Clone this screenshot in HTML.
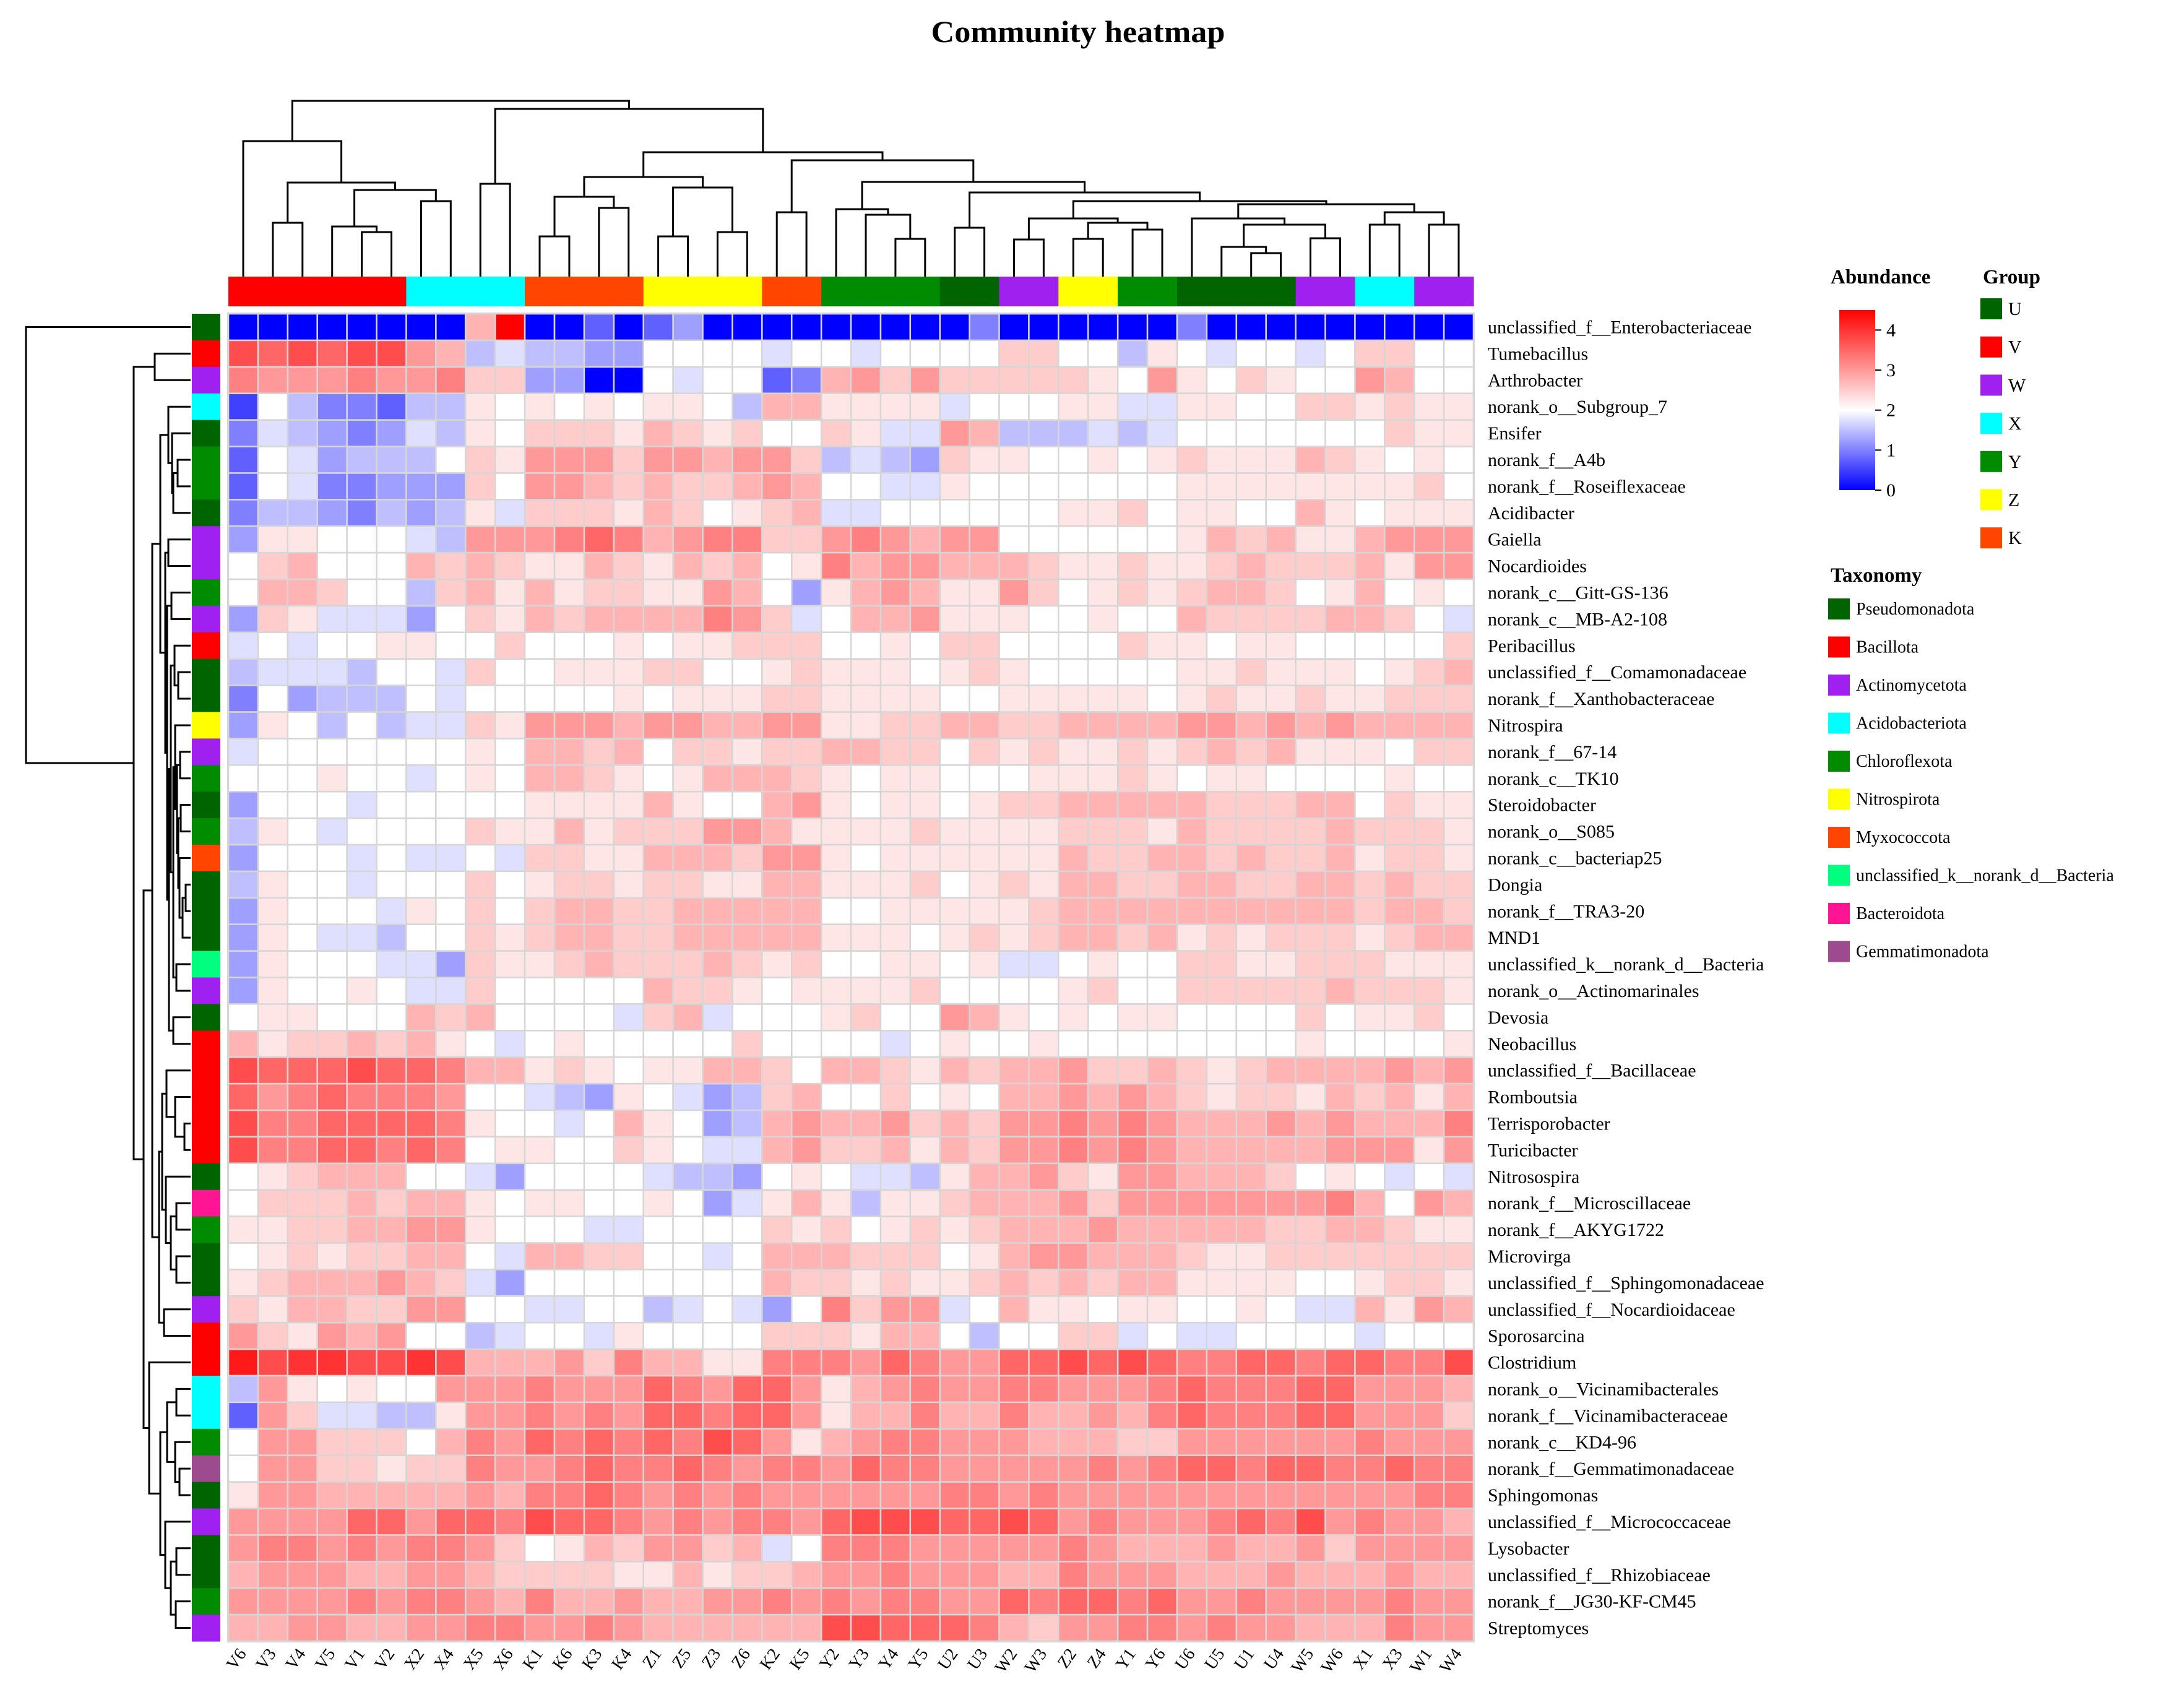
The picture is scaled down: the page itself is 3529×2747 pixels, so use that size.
<!DOCTYPE html>
<html><head><meta charset="utf-8"><title>Community heatmap</title>
<style>
html,body{margin:0;padding:0;background:#fff;}
svg{display:block;}
text{font-family:"Liberation Serif","DejaVu Serif",serif;fill:#000;}
</style></head>
<body>
<svg id="chart" xmlns="http://www.w3.org/2000/svg" width="3529" height="2747" viewBox="0 0 3529 2747">
<rect x="0" y="0" width="3529" height="2747" fill="#fff"/>
<text x="1742" y="68" text-anchor="middle" font-size="50" font-weight="bold" textLength="475" lengthAdjust="spacingAndGlyphs">Community heatmap</text>
<g id="layer-heat"></g>
<g id="layer-coltree"></g>
<g id="layer-rowtree"></g>
<g id="layer-groupbar"></g>
<g id="layer-taxbar"></g>
<g id="layer-rowlabels"></g>
<g id="layer-collabels"></g>
<g id="layer-legend"></g>
</svg>
<script>
const samples = ["V6","V3","V4","V5","V1","V2","X2","X4","X5","X6","K1","K6","K3","K4","Z1","Z5","Z3","Z6","K2","K5","Y2","Y3","Y4","Y5","U2","U3","W2","W3","Z2","Z4","Y1","Y6","U6","U5","U1","U4","W5","W6","X1","X3","W1","W4"];
const sampleGroups = ["V","V","V","V","V","V","X","X","X","X","K","K","K","K","Z","Z","Z","Z","K","K","Y","Y","Y","Y","U","U","W","W","Z","Z","Y","Y","U","U","U","U","W","W","X","X","W","W"];
const taxa = ["unclassified_f__Enterobacteriaceae","Tumebacillus","Arthrobacter","norank_o__Subgroup_7","Ensifer","norank_f__A4b","norank_f__Roseiflexaceae","Acidibacter","Gaiella","Nocardioides","norank_c__Gitt-GS-136","norank_c__MB-A2-108","Peribacillus","unclassified_f__Comamonadaceae","norank_f__Xanthobacteraceae","Nitrospira","norank_f__67-14","norank_c__TK10","Steroidobacter","norank_o__S085","norank_c__bacteriap25","Dongia","norank_f__TRA3-20","MND1","unclassified_k__norank_d__Bacteria","norank_o__Actinomarinales","Devosia","Neobacillus","unclassified_f__Bacillaceae","Romboutsia","Terrisporobacter","Turicibacter","Nitrosospira","norank_f__Microscillaceae","norank_f__AKYG1722","Microvirga","unclassified_f__Sphingomonadaceae","unclassified_f__Nocardioidaceae","Sporosarcina","Clostridium","norank_o__Vicinamibacterales","norank_f__Vicinamibacteraceae","norank_c__KD4-96","norank_f__Gemmatimonadaceae","Sphingomonas","unclassified_f__Micrococcaceae","Lysobacter","unclassified_f__Rhizobiaceae","norank_f__JG30-KF-CM45","Streptomyces"];
const taxaPhylum = ["Pseudomonadota","Bacillota","Actinomycetota","Acidobacteriota","Pseudomonadota","Chloroflexota","Chloroflexota","Pseudomonadota","Actinomycetota","Actinomycetota","Chloroflexota","Actinomycetota","Bacillota","Pseudomonadota","Pseudomonadota","Nitrospirota","Actinomycetota","Chloroflexota","Pseudomonadota","Chloroflexota","Myxococcota","Pseudomonadota","Pseudomonadota","Pseudomonadota","unclassified_k__norank_d__Bacteria","Actinomycetota","Pseudomonadota","Bacillota","Bacillota","Bacillota","Bacillota","Bacillota","Pseudomonadota","Bacteroidota","Chloroflexota","Pseudomonadota","Pseudomonadota","Actinomycetota","Bacillota","Bacillota","Acidobacteriota","Acidobacteriota","Chloroflexota","Gemmatimonadota","Pseudomonadota","Actinomycetota","Pseudomonadota","Pseudomonadota","Chloroflexota","Actinomycetota"];
const groupNames = ["U","V","W","X","Y","Z","K"];
const groupColors = ["#006400","#ff0000","#a020f0","#00ffff","#008b00","#ffff00","#ff4500"];
const phylumNames = ["Pseudomonadota","Bacillota","Actinomycetota","Acidobacteriota","Chloroflexota","Nitrospirota","Myxococcota","unclassified_k__norank_d__Bacteria","Bacteroidota","Gemmatimonadota"];
const phylumColors = ["#006400","#ff0000","#a020f0","#00ffff","#008b00","#ffff00","#ff4500","#00ff7f","#ff1493","#9e4a8e"];
const legendTicks = [0,1,2,3,4];
const abundance = [
[0,0,0,0,0,0,0,0,2.75,4.5,0,0,.75,0,.75,1.25,0,0,0,0,0,0,0,0,0,1,0,0,0,0,0,0,1,0,0,0,0,0,0,0,0,0],
[3.75,3.5,3.75,3.5,3.75,3.75,3,2.75,1.5,1.75,1.5,1.5,1.25,1.25,2,2,2,2,1.75,2,2,1.75,2,2,2,2,2.5,2.5,2,2,1.5,2.25,2,1.75,2,2,1.75,2,2.5,2.5,2,2],
[3.25,3,3,3,3.25,3,3,3.25,2.5,2.5,1.25,1.25,0,0,2,1.75,2,2,.75,1,2.75,3,2.5,3,2.5,2.5,2.5,2.5,2.5,2.25,2,3,2.25,2,2.5,2.25,2,2,3,2.75,2,2],
[.5,2,1.5,1,1,.75,1.5,1.5,2.25,2,2.25,2,2.25,2,2.25,2.25,2,1.5,2.75,2.75,2.25,2.25,2.25,2.25,1.75,2,2,2,2.25,2.25,1.75,1.75,2.25,2.25,2,2,2.5,2.5,2.25,2.5,2.25,2.25],
[1,1.75,1.5,1.25,1,1.25,1.75,1.5,2.25,2,2.5,2.5,2.5,2.25,2.75,2.5,2.25,2.5,2,2,2.5,2.25,1.75,1.75,3,2.75,1.5,1.5,1.5,1.75,1.5,1.75,2,2,2,2,2,2,2,2.5,2.25,2.25],
[.75,2,1.75,1.25,1.5,1.5,1.5,2,2.5,2.25,3,3,3,2.5,3,3,2.75,3,3,2.5,1.5,1.75,1.5,1.25,2.5,2.25,2.25,2,2,2.25,2,2.25,2.5,2.25,2.25,2.25,2.75,2.5,2.25,2,2.25,2],
[.75,2,1.75,1,1,1.25,1.25,1.25,2.5,2,3,3,2.75,2.5,2.75,2.5,2.5,2.75,3,2.75,2,2,1.75,1.75,2.25,2,2,2,2,2,2,2,2.25,2.25,2.25,2.25,2.25,2.25,2.25,2.25,2.5,2],
[1,1.5,1.5,1.25,1,1.5,1.25,1.5,2.25,1.75,2.5,2.5,2.5,2.25,2.75,2.5,2,2.25,2.5,2.75,1.75,1.75,2,2,2,2,2,2,2.25,2.25,2.5,2,2.25,2.25,2,2,2.75,2.25,2,2.25,2.25,2.25],
[1.25,2.25,2.25,2,2,2,1.75,1.5,3,3,3,3.25,3.5,3.25,2.75,3,3.25,3.25,2.5,2.5,3,3.25,3,2.75,3,3,2,2,2,2,2,2,2.25,2.75,2.5,2.75,2.25,2.25,2.75,3,3,3],
[2,2.5,2.75,2,2,2,2.75,2.5,2.75,2.5,2.25,2.25,2.75,2.5,2.25,2.75,2.5,2.75,2,2.25,3.25,2.75,3,3,2.75,2.75,2.75,2.5,2.25,2.25,2.5,2.25,2.25,2.5,2.75,2.5,2.5,2.5,2.75,2.25,3,3],
[2,2.75,2.75,2.5,2,2,1.5,2.5,2.75,2.25,2.75,2.25,2.5,2.5,2.25,2.25,3,2.75,2,1.25,2.25,2.75,3,2.75,2.25,2.25,3,2.5,2,2.25,2.5,2.25,2.5,2.75,2.75,2.5,2,2.25,2.75,2,2.25,2],
[1.25,2.5,2.25,1.75,1.75,1.75,1.25,2,2.5,2.25,2.75,2.5,2.75,2.75,2.75,2.75,3.25,3,2.5,1.75,2,2.75,2.75,3,2.25,2.25,2.25,2,2,2.25,2,2,2.75,2.5,2.5,2.5,2.5,2.75,2.75,2.5,2,1.75],
[1.75,2,1.75,2,2,2.25,2.25,2,2,2.5,2,2,2,2.25,2,2.25,2.25,2.5,2.5,2.5,2,2,2.25,2,2.5,2.5,2,2,2,2,2.5,2.25,2.25,2,2.25,2.25,2,2,2,2,2,2.5],
[1.5,1.75,1.75,1.75,1.5,2,2,1.75,2.5,2,2,2.25,2.25,2.25,2.5,2.5,2,2,2.25,2.5,2.25,2.25,2.25,2,2.25,2.5,2.25,2,2,2,2,2,2.25,2.25,2.5,2.25,2.25,2.25,2,2.25,2.5,2.75],
[1,2,1.25,1.5,1.5,1.5,2,1.75,2,2,2,2,2,2.25,2,2.25,2.25,2.25,2.5,2.5,2.25,2.25,2.25,2.25,2,2,2.25,2.25,2.25,2.25,2.25,2,2.25,2.5,2.25,2.25,2.5,2.25,2.25,2.5,2.5,2.5],
[1.25,2.25,2,1.5,2,1.5,1.75,1.75,2.5,2.25,3,3,3,2.75,3,3,2.75,2.75,3,3,2.25,2.25,2.5,2.5,2.75,2.75,2.5,2.5,2.75,2.75,2.75,2.75,3,3,2.75,3,2.75,3,2.75,2.75,2.75,2.75],
[1.75,2,2,2,2,2,2,2,2.25,2,2.75,2.75,2.5,2.75,2,2.5,2.5,2.25,2.5,2.5,2.75,2.75,2.5,2.5,2,2.5,2.25,2.5,2.25,2.25,2.5,2.25,2.5,2.75,2.5,2.75,2.25,2.25,2.25,2,2.5,2.5],
[2,2,2,2.25,2,2,1.75,2,2.25,2,2.75,2.75,2.5,2.25,2,2.25,2.75,2.75,2.75,2.5,2.25,2,2.25,2.25,2,2,2,2.25,2.25,2.25,2.5,2.25,2,2.25,2.25,2,2,2,2,2.25,2,2],
[1.25,2,2,2,1.75,2,2,2,2,2,2.25,2.25,2.25,2.25,2.75,2.25,2,2,2.75,3,2.25,2,2.25,2.25,2,2.25,2.5,2.5,2.75,2.75,2.75,2.75,2.75,2.5,2.5,2.5,2.75,2.75,2,2.5,2.25,2.25],
[1.5,2.25,2,1.75,2,2,2,2,2.5,2.25,2.25,2.75,2.25,2.5,2.5,2.5,3,3,2.75,2.25,2.25,2.25,2.25,2.5,2.25,2.25,2.25,2.25,2.5,2.5,2.5,2.25,2.75,2.5,2.5,2.5,2.5,2.75,2.5,2.5,2.5,2.25],
[1.25,2,2,2,1.75,2,1.75,1.75,2,1.75,2.5,2.5,2.25,2.25,2.75,2.75,2.75,2.5,3,3,2.25,2,2.25,2.25,2.25,2.25,2.25,2.25,2.75,2.5,2.5,2.75,2.75,2.5,2.75,2.5,2.5,2.75,2.25,2.5,2.5,2.25],
[1.5,2.25,2,2,1.75,2,2,2,2.5,2,2.25,2.5,2.5,2.25,2.5,2.5,2.25,2.25,2.75,2.75,2.25,2.25,2.25,2.5,2,2.25,2.5,2.25,2.75,2.75,2.5,2.5,2.75,2.75,2.5,2.5,2.75,2.75,2.5,2.75,2.5,2.5],
[1.25,2.25,2,2,2,1.75,2.25,2,2.5,2,2.5,2.75,2.75,2.5,2.5,2.75,2.75,2.75,2.75,2.75,2,2,2.25,2.25,2.25,2.25,2.25,2.5,2.75,2.75,2.75,2.75,2.75,2.75,2.75,2.75,2.75,2.75,2.5,2.75,2.75,2.5],
[1.25,2.25,2,1.75,1.75,1.5,2,2,2.5,2.25,2.5,2.75,2.75,2.5,2.5,2.75,2.75,2.75,2.75,2.75,2.25,2.25,2.25,2,2.25,2.5,2.25,2.5,2.75,2.75,2.5,2.75,2.25,2.5,2.25,2.5,2.5,2.5,2.25,2.5,2.75,2.75],
[1.25,2.25,2,2,2,1.75,1.75,1.25,2.5,2.25,2.25,2.5,2.75,2.5,2.5,2.5,2.75,2.5,2.25,2.5,2,2,2.25,2.25,2,2.25,1.75,1.75,2,2.25,2,2,2.5,2.5,2.25,2.25,2.5,2.5,2.5,2.25,2.25,2.25],
[1.25,2.25,2,2,2.25,2,1.75,1.75,2.5,2,2,2,2,2,2.75,2.5,2.5,2.25,2,2.25,2.25,2.25,2.25,2.5,2,2,2,2,2.25,2.5,2,2,2.5,2.5,2.5,2.5,2.5,2.75,2.5,2.5,2.5,2.25],
[2,2.25,2.25,2,2,2,2.75,2.5,2.75,2,2,2,2,1.75,2.5,2.75,1.75,2,2,2,2.25,2.5,2,2,3,2.75,2.25,2,2.25,2,2.25,2.25,2,2,2,2,2.5,2,2.25,2.25,2.5,2],
[2.75,2.25,2.5,2.5,2.75,2.5,2.75,2.25,2,1.75,2,2.25,2,2,2,2,2,2.5,2,2,2,2,1.75,2,2.25,2,2,2.25,2,2,2,2,2,2,2,2,2.25,2,2,2,2,2.25],
[3.75,3.5,3.5,3.5,3.75,3.5,3.5,3.25,2.75,2.75,2.25,2.5,2.25,2,2.25,2.25,2.75,2.75,2.5,2,2.75,2.75,2.5,2.25,2.75,2.5,2.75,2.75,3,2.5,2.5,2.75,2.5,2.25,2.5,2.75,2.75,2.75,2.75,3,2.75,3],
[3.5,3,3.25,3.5,3.25,3.25,3.25,3,2,2,1.75,1.5,1.25,2.25,2,1.75,1.25,1.5,2.5,2.75,2,2,2.5,2,2.25,2,2.75,2.75,3,2.75,3,2.75,2.5,2.25,2.5,2.5,2.25,2.75,2.5,2.75,2.25,2.75],
[3.75,3.25,3.25,3.5,3.5,3.5,3.5,3.25,2.25,2,2,1.75,2,2.75,2.25,2,1.25,1.5,2.75,3,2.75,2.75,3,2.5,2.75,2.5,3,3,3.25,3,3.25,3,2.75,2.75,2.75,3,2.75,3,2.75,2.75,2.75,3.25],
[3.75,3.25,3.25,3.5,3.5,3.25,3.5,3.25,2,2.25,2.25,2,2,2.5,2.25,2,1.75,1.75,2.75,3,2.5,2.5,2.75,2.25,2.75,2.5,3,3,3.25,3,3.25,3,2.75,2.75,2.75,2.75,2.75,3,3,3,2.25,3],
[2,2.25,2.5,2.75,2.75,2.75,2,2,1.75,1.25,2,2,2,2,1.75,1.5,1.5,1.25,2,2.25,2,1.75,1.75,1.5,2.25,2.75,2.75,3,2.5,2.25,3,3,2.75,2.75,2.75,2.5,2,2.25,2,1.75,2,1.75],
[2,2.5,2.5,2.5,2.75,2.5,2.75,2.75,2.25,2,2.25,2.25,2,2,2.25,2,1.25,1.75,2.25,2.75,2.25,1.5,2.25,2.25,2.5,2.75,2.75,2.75,3,2.5,3,3,3,3,3,3,3,3.25,2.75,2,3,2.75],
[2.25,2.25,2.5,2.5,2.75,2.75,3,3,2.25,2,2,2,1.75,1.75,2,2,2,2,2.5,2.25,2.5,2,2.25,2.5,2.25,2.5,2.75,2.75,2.75,3,2.75,2.75,2.75,2.75,2.75,2.5,2.5,2.75,2.75,2.5,2.25,2.25],
[2,2.25,2.5,2.25,2.5,2.5,2.75,2.75,2,1.75,2.75,2.75,2.5,2.5,2,2,1.75,2,2.75,2.75,2.75,2.5,2.5,2.5,2,2.25,2.75,3,3,2.75,2.75,2.75,2.5,2.25,2.25,2.5,2.5,2.5,2.5,2.5,2.5,2.5],
[2.25,2.5,2.75,2.75,2.75,3,2.75,2.5,1.75,1.25,2,2,2,2,2,2,2,2,2.75,2.5,2.5,2.25,2.5,2.25,2.25,2.5,2.75,2.5,2.75,2.5,2.75,2.75,2.25,2.25,2.25,2.25,2,2,2.25,2.5,2.5,2.25],
[2.5,2.25,2.75,2.75,2.5,2.5,3,3,2,2,1.75,1.75,2,2,1.5,1.75,2,1.75,1.25,2,3.25,2.5,3,3,1.75,2,2.75,2.25,2.25,2,2.25,2.25,2,2,2.25,2,1.75,1.75,2.75,2.25,3,2.75],
[3,2.5,2.25,3,2.75,3,2,2,1.5,1.75,2,2,1.75,2.25,2,2,2,2,2.5,2.5,2.5,2.25,2.75,2.75,2,1.5,2,2,2.5,2.5,1.75,2,1.75,1.75,2,2,2,2,1.75,2,2,2],
[4.25,3.75,4,4,3.75,3.75,4,3.75,2.75,2.75,2.75,3,2.5,3.25,2.75,2.75,2.25,2.25,3.25,3.25,3.25,3,3.5,3.25,3,3,3.5,3.5,3.75,3.5,3.75,3.5,3.25,3.25,3.5,3.5,3.25,3.5,3.5,3.25,3.25,3.75],
[1.5,3,2.25,2,2.25,2,2,3,3,3,3.25,3,3,3,3.5,3.25,3,3.5,3.5,3,2.25,2.75,3,3.25,3,3,3.25,3.25,3,3,3,3.25,3.5,3.25,3.25,3.25,3.5,3.5,3,3,3,2.75],
[.75,3,2.5,1.75,1.75,1.5,1.5,2.25,3,3,3.25,3,3.25,3,3.5,3.5,3.25,3.5,3.5,3,2.25,2.75,2.75,3.25,2.75,2.75,3.25,2.75,2.75,3,2.75,3.25,3.5,3.25,3.25,3.25,3.5,3.5,3,3,3,2.5],
[2,3,3,2.5,2.5,2.5,2,2.75,3.25,3,3.5,3.25,3.5,3.25,3.5,3.25,3.75,3.5,3,2.25,2.75,3,3.25,3.25,3,3,3,2.75,2.75,2.75,2.5,2.5,3,3,3,3,3,3,3.25,3,3,3],
[2,3,3,2.5,2.5,2.25,2.5,2.5,3.25,3,3,3.25,3.5,3.25,3.25,3.5,3.25,3,3.25,3.25,3,3.5,3.25,3.25,3,3,3,3,3,3.25,3,3.25,3.5,3.5,3.25,3.5,3.5,3.25,3.25,3.5,3.25,3.25],
[2.25,3,3,2.75,2.75,2.75,2.75,2.75,3,2.75,3.25,3.25,3.5,3.25,3,3.25,3,3.25,3,3,3,3,3,3,3.25,3.25,3,3.25,3,3,3,3,3,3,3,3,3,3,3,3,3.25,3.25],
[3,3,3,3,3.5,3.5,3,3.5,3.5,3.25,3.75,3.5,3.5,3.25,3,3.25,3,3.25,3.25,3,3.5,3.75,3.75,3.75,3.5,3.5,3.75,3.5,3,3.25,3,3,3,3.25,3.5,3.25,3.75,3,3.25,3,3,2.75],
[3,3.25,3.25,3,3.25,3,3.25,3.25,3,2.5,2,2.25,2.75,2.5,3,3,2.5,2.75,1.75,2,3.25,3.25,3.25,3,3,3,3,3,3.25,3,2.75,2.75,2.75,3,2.75,2.75,3,2.5,3,3,3,3],
[2.75,3,3,3,2.75,2.75,3,3,2.75,2.5,2.5,2.5,2.5,2.25,2.25,2.75,2.25,2.5,2.5,2.75,3,3,3.25,3,3,3,2.75,2.75,3.25,3,3,3,2.75,2.75,2.75,3,2.75,2.75,2.75,3,2.75,2.75],
[3,3,3,3,3.25,3,3.25,3.25,3,2.75,3.25,2.75,2.75,3,2.75,2.75,3,3,3.25,3,3.25,3,3.25,3.25,3,3,3.5,3.25,3.5,3.5,3.25,3.5,3,3,3.25,3,3,3,3,3.25,3,3],
[2.75,2.75,3,3,2.75,2.75,3,3,3.25,3.25,3,3,3.25,3,2.75,2.75,2.75,2.75,2.75,2.75,3.75,3.75,3.5,3.5,3.5,3.25,2.75,2.5,3,3,3.25,3.25,3,3.25,3,3,2.75,2.75,2.75,3.25,3,3]
];

const SVGNS = "http://www.w3.org/2000/svg";
const HX0 = 369, HX1 = 2381, HY0 = 507, HY1 = 2652;
const CW = (HX1 - HX0) / samples.length;
const RH = (HY1 - HY0) / taxa.length;
function xCol(i){ return HX0 + i * CW; }
function yRow(r){ return HY0 + r * RH; }
function heatColor(v){
  v = Math.max(0, Math.min(4.5, v));
  if (v < 2){ const t = (2 - v) / 2; const c = Math.round(255 * (1 - t)); return "rgb(" + c + "," + c + ",255)"; }
  const t = (v - 2) / 2.5; const c = Math.round(255 * (1 - t)); return "rgb(255," + c + "," + c + ")";
}
function mk(tag, attrs, parent){
  const el = document.createElementNS(SVGNS, tag);
  for (const k in attrs) el.setAttribute(k, attrs[k]);
  parent.appendChild(el);
  return el;
}
const gHeat = document.getElementById("layer-heat");
const gColTree = document.getElementById("layer-coltree");
const gRowTree = document.getElementById("layer-rowtree");
const gGroup = document.getElementById("layer-groupbar");
const gTax = document.getElementById("layer-taxbar");
const gRowLab = document.getElementById("layer-rowlabels");
const gColLab = document.getElementById("layer-collabels");
const gLeg = document.getElementById("layer-legend");

// heatmap cells
const bg = mk("rect", {x: HX0 - 2, y: HY0 - 2, width: HX1 - HX0 + 4, height: HY1 - HY0 + 4, fill: "#d6d6d6"}, gHeat);


for (let r = 0; r < taxa.length; r++){
  for (let c = 0; c < samples.length; c++){
    const cell = mk("rect", {x: (xCol(c) + 1.3).toFixed(1), y: (yRow(r) + 1.3).toFixed(1), width: (CW - 2.6).toFixed(1), height: (RH - 2.6).toFixed(1), fill: heatColor(abundance[r][c])}, gHeat);
    
    
  }
}

// group bar
for (let c = 0; c < samples.length; c++){
  const gi = groupNames.indexOf(sampleGroups[c]);
  const gb = mk("rect", {x: xCol(c).toFixed(1), y: 447, width: (CW + 0.6).toFixed(1), height: 48, fill: groupColors[gi]}, gGroup);
  
  
}
// taxonomy bar
for (let r = 0; r < taxa.length; r++){
  const pi = phylumNames.indexOf(taxaPhylum[r]);
  const tb = mk("rect", {x: 310, y: yRow(r).toFixed(1), width: 46, height: (RH + 0.6).toFixed(1), fill: phylumColors[pi]}, gTax);
  
  
}

// row labels
for (let r = 0; r < taxa.length; r++){
  const t = mk("text", {x: 2404, y: (yRow(r) + RH / 2 + 10).toFixed(1), "font-size": 30}, gRowLab);
  t.textContent = taxa[r];
  
  
}
// column labels
for (let c = 0; c < samples.length; c++){
  const cx = xCol(c) + CW / 2 + 6, cy = 2672;
  const t = mk("text", {x: cx.toFixed(1), y: cy, "font-size": 28, "text-anchor": "end", transform: "rotate(-55 " + cx.toFixed(1) + " " + cy + ")"}, gColLab);
  t.textContent = samples[c];
  
  
}

// dendrogram layouts (structure)
const colTree = [163,
  [228, 0, [295, [360,1,2], [307, [366,3,[375,4,5]], [325,6,7]]]],
  [176, [297,8,9],
    [246,
      [286, [318, [382,10,11], [336,12,13]], [303, [382,14,15], [375,16,17]]],
      [259, [343,18,19],
        [294, [338, 20, [347, 21, [386,22,23]]],
          [311, [368,24,25],
            [325, [353, [387,26,27], [360, [386,28,29], [371,30,31]]],
              [330, [353, 32, [363, [399,33,[409,34,35]], [385,36,37]]], [343, [363,38,39], [363,40,41]]]]]]]]]];
const rowTreeG = [282, 12, [288,13,14]];
const rowTreeH = [280, [283, 15, [286, [291,16,17], [288, [292,18,19], [290, 20, [295, [300,21,22], 23]]]]], [285,24,25]];
const rowTreeD = [259, [272, 3, [278, 4, [280, [287,5,6], 7]]],
  [267, [272,8,9], [270, [277,10,11], [273, [276, rowTreeG, rowTreeH], [280,26,27]]]]];
const rowTreeE = [257, [262, [269, 28, [283, 29, [298,30,31]]], [268, 32, [276, [285,33,34], [285,35,36]]]], [265,37,38]];
const rowTreeF = [259, [270, [285,40,41], [283, 42, [290,43,44]]], [267, 45, [276, [285,46,47], [284,48,49]]]];
const rowTree = [42, 0, [216, [250,1,2], [232, [246, rowTreeD, rowTreeE], [241, 39, rowTreeF]]]];

let colPath = "";
function layoutCol(node){
  if (typeof node === "number") return {x: xCol(node) + CW / 2, y: 447};
  const a = layoutCol(node[1]), b = layoutCol(node[2]);
  const y = node[0];
  colPath += "M" + a.x.toFixed(1) + " " + a.y + "V" + y + "H" + b.x.toFixed(1) + "V" + b.y + " ";
  return {x: (a.x + b.x) / 2, y: y};
}
layoutCol(colTree);
const cp = mk("path", {d: colPath, fill: "none", stroke: "#000", "stroke-width": 3}, gColTree);



let rowPath = "";
function layoutRow(node){
  if (typeof node === "number") return {x: 308, y: yRow(node) + RH / 2};
  const a = layoutRow(node[1]), b = layoutRow(node[2]);
  const x = node[0];
  rowPath += "M" + a.x + " " + a.y.toFixed(1) + "H" + x + "V" + b.y.toFixed(1) + "H" + b.x + " ";
  return {x: x, y: (a.y + b.y) / 2};
}
layoutRow(rowTree);
const rp = mk("path", {d: rowPath, fill: "none", stroke: "#000", "stroke-width": 3}, gRowTree);



// abundance legend
const defs = mk("defs", {}, gLeg);
const grad = mk("linearGradient", {id: "abGrad", x1: 0, y1: 1, x2: 0, y2: 0}, defs);
mk("stop", {offset: "0", "stop-color": "#0000ff"}, grad);
mk("stop", {offset: (2 / 4.5).toFixed(3), "stop-color": "#ffffff"}, grad);
mk("stop", {offset: "1", "stop-color": "#ff0000"}, grad);
const abT = mk("text", {x: 2958, y: 458, "font-size": 33, "font-weight": "bold"}, gLeg);
abT.textContent = "Abundance";


const LB0 = 792, LB1 = 501;
function yLegend(v){ return LB0 - (v / 4.5) * (LB0 - LB1); }
const bar = mk("rect", {x: 2972, y: LB1, width: 58, height: LB0 - LB1, fill: "url(#abGrad)"}, gLeg);


for (const v of legendTicks){
  const y = yLegend(v);
  const tk = mk("line", {x1: 3030, x2: 3040, y1: y.toFixed(1), y2: y.toFixed(1), stroke: "#000", "stroke-width": 2}, gLeg);
  
  
  const tl = mk("text", {x: 3048, y: (y + 10).toFixed(1), "font-size": 30}, gLeg);
  tl.textContent = String(v);
  
  
}
// group legend
const grT = mk("text", {x: 3204, y: 458, "font-size": 33, "font-weight": "bold"}, gLeg);
grT.textContent = "Group";


for (let i = 0; i < groupNames.length; i++){
  const cy = 499 + i * 61.7;
  const sw = mk("rect", {x: 3200, y: (cy - 17).toFixed(1), width: 35, height: 34, fill: groupColors[i]}, gLeg);
  
  
  const lt = mk("text", {x: 3245, y: (cy + 10).toFixed(1), "font-size": 30}, gLeg);
  lt.textContent = groupNames[i];
  
  
}
// taxonomy legend
const txT = mk("text", {x: 2958, y: 940, "font-size": 33, "font-weight": "bold"}, gLeg);
txT.textContent = "Taxonomy";


for (let i = 0; i < phylumNames.length; i++){
  const cy = 984 + i * 61.5;
  const sw = mk("rect", {x: 2954, y: (cy - 17).toFixed(1), width: 35, height: 34, fill: phylumColors[i]}, gLeg);
  
  
  const lt = mk("text", {x: 2999, y: (cy + 9).toFixed(1), "font-size": 28}, gLeg);
  lt.textContent = phylumNames[i];
  
  
}
</script>
</body></html>
